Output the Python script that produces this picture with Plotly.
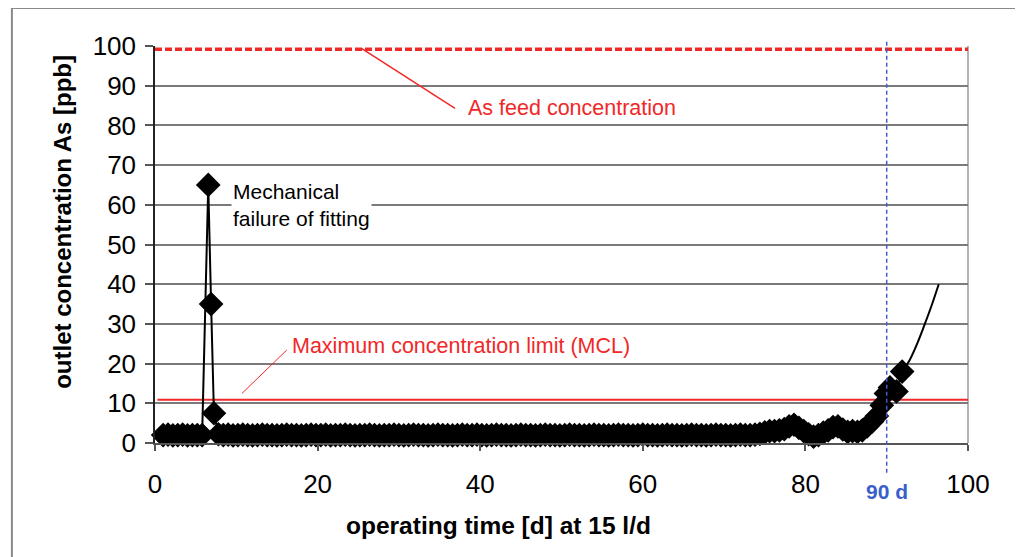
import plotly.graph_objects as go

# ---------------- data ----------------
X_MIN, X_MAX = 0, 100
Y_MIN, Y_MAX = 0, 100
x_ticks = [0, 20, 40, 60, 80, 100]
y_ticks = [0, 10, 20, 30, 40, 50, 60, 70, 80, 90, 100]

# early baseline before failure
early_days = [1.0, 1.6, 2.2, 2.8, 3.4, 4.0, 4.6, 5.2, 5.8]
early_conc = [2.0, 2.1, 1.9, 2.0, 2.1, 1.9, 2.0, 2.0, 2.0]

# mechanical failure of fitting
fail_days = [6.55, 6.9, 7.25]
fail_conc = [65.0, 35.0, 7.5]

# long baseline
base_days = [7.8, 8.4, 9.0, 9.6, 10.2, 10.8, 11.4, 12.0, 12.6, 13.2, 13.8, 14.4, 15.0,
             15.6, 16.2, 16.8, 17.4, 18.0, 18.6, 19.2, 19.8, 20.4, 21.0, 21.6, 22.2,
             22.8, 23.4, 24.0, 24.6, 25.2, 25.8, 26.4, 27.0, 27.6, 28.2, 28.8, 29.4,
             30.0, 30.6, 31.2, 31.8, 32.4, 33.0, 33.6, 34.2, 34.8, 35.4, 36.0, 36.6,
             37.2, 37.8, 38.4, 39.0, 39.6, 40.2, 40.8, 41.4, 42.0, 42.6, 43.2, 43.8,
             44.4, 45.0, 45.6, 46.2, 46.8, 47.4, 48.0, 48.6, 49.2, 49.8, 50.4, 51.0,
             51.6, 52.2, 52.8, 53.4, 54.0, 54.6, 55.2, 55.8, 56.4, 57.0, 57.6, 58.2,
             58.8, 59.4, 60.0, 60.6, 61.2, 61.8, 62.4, 63.0, 63.6, 64.2, 64.8, 65.4,
             66.0, 66.6, 67.2, 67.8, 68.4, 69.0, 69.6, 70.2, 70.8, 71.4, 72.0, 72.6,
             73.2, 73.8]
base_conc = [2.2, 2.0, 2.1, 1.9, 2.0, 2.1, 2.0, 1.9, 2.0, 2.1, 2.0, 2.0, 1.9,
             2.0, 2.1, 2.0, 2.0, 1.9, 2.0, 2.1, 2.0, 2.0, 2.1, 1.9, 2.0,
             2.0, 2.1, 2.0, 1.9, 2.0, 2.0, 2.1, 2.0, 1.9, 2.0, 2.0, 2.1,
             2.0, 1.9, 2.0, 2.1, 2.0, 2.0, 1.9, 2.0, 2.1, 2.0, 2.0, 1.9,
             2.0, 2.1, 2.0, 2.0, 2.1, 2.0, 1.9, 2.0, 2.1, 2.0, 2.0, 1.9,
             2.0, 2.1, 2.0, 2.0, 1.9, 2.0, 2.1, 2.0, 2.0, 1.9, 2.0, 2.1,
             2.0, 2.0, 1.9, 2.0, 2.1, 2.0, 2.0, 1.9, 2.0, 2.1, 2.0, 2.0,
             1.9, 2.0, 2.1, 2.0, 2.0, 1.9, 2.0, 2.1, 2.0, 2.0, 1.9, 2.0,
             2.1, 2.0, 2.0, 1.9, 2.0, 2.1, 2.0, 2.0, 1.9, 2.0, 2.1, 2.0,
             2.0, 2.1]

# breakthrough phase
late_days = [74.4, 75.0, 75.6, 76.2, 76.8, 77.4, 78.0, 78.6, 79.2, 79.8, 80.4, 81.0,
             81.6, 82.2, 82.8, 83.4, 84.0, 84.6, 85.2, 85.8, 86.4, 87.0, 87.6, 88.2,
             88.8, 89.4, 89.9, 90.4, 91.2, 91.9]
late_conc = [2.3, 2.7, 3.0, 3.0, 3.2, 3.5, 4.2, 4.6, 3.8, 3.0, 2.2, 1.6,
             2.0, 2.6, 3.2, 4.0, 4.2, 3.4, 2.8, 3.0, 2.8, 3.2, 4.2, 5.4,
             6.8, 9.5, 12.5, 14.0, 13.0, 18.0]

# extrapolated trend
trend_days = [91.9, 92.8, 93.7, 94.6, 95.5, 96.4]
trend_conc = [18.0, 20.8, 24.8, 29.5, 34.5, 40.0]

feed_conc = 99.2
mcl_conc = 10.9
breakthrough_day = 90

days = early_days + fail_days + base_days + late_days
conc = early_conc + fail_conc + base_conc + late_conc

# --------------- figure ----------------
FONT = "Liberation Sans, Arial, Helvetica, sans-serif"
RED = "#f02828"
BLUE = "#3a5fcd"


def px(v):
    return (v - X_MIN) / (X_MAX - X_MIN)


def py(v):
    return (v - Y_MIN) / (Y_MAX - Y_MIN)


fig = go.Figure()

fig.add_trace(go.Scatter(
    x=days, y=conc, mode="lines+markers",
    line=dict(color="black", width=2),
    marker=dict(symbol="diamond", size=19, color="black"),
    cliponaxis=False, showlegend=False, hoverinfo="x+y"))

fig.add_trace(go.Scatter(
    x=trend_days, y=trend_conc, mode="lines",
    line=dict(color="black", width=2, shape="spline"),
    showlegend=False, hoverinfo="skip"))

shapes = [
    # feed concentration (dashed red)
    dict(type="line", xref="x", yref="y", x0=X_MIN, x1=X_MAX, y0=feed_conc, y1=feed_conc,
         line=dict(color=RED, width=3.5, dash="7px,3px"), layer="above"),
    # MCL
    dict(type="line", xref="x", yref="y", x0=X_MIN + 0.3, x1=X_MAX, y0=mcl_conc, y1=mcl_conc,
         line=dict(color=RED, width=2), layer="below"),
    # 90 d marker line
    dict(type="line", xref="paper", yref="paper",
         x0=px(breakthrough_day), x1=px(breakthrough_day), y0=py(-7.5), y1=py(101.3),
         line=dict(color=BLUE, width=1.5, dash="4px,3px")),
    # right plot border
    dict(type="line", xref="paper", yref="paper", x0=1, x1=1, y0=0, y1=1,
         line=dict(color="#9a9a9a", width=1.5), layer="below"),
    # leader lines
    dict(type="line", xref="x", yref="y", x0=25.4, y0=99.4, x1=36.9, y1=84.3,
         line=dict(color=RED, width=1.5)),
    dict(type="line", xref="x", yref="y", x0=10.7, y0=12.5, x1=16.2, y1=23.4,
         line=dict(color=RED, width=1)),
    # outer frame
    dict(type="rect", xref="paper", yref="paper", x0=-0.176, x1=1.3, y0=-0.5, y1=1.0957,
         line=dict(color="#8a8a8a", width=2), fillcolor="rgba(0,0,0,0)"),
]

annotations = [
    dict(text="Mechanical<br>failure of fitting", xref="x", yref="y", x=9.35, y=60,
         xanchor="left", yanchor="middle", align="left", showarrow=False,
         bgcolor="white", font=dict(family=FONT, size=21, color="black")),
    dict(text="As feed concentration", xref="x", yref="y", x=38.2, y=84.4,
         xanchor="left", yanchor="middle", showarrow=False,
         font=dict(family=FONT, size=21.5, color=RED)),
    dict(text="Maximum concentration limit (MCL)", xref="x", yref="y", x=16.6, y=24.4,
         xanchor="left", yanchor="middle", showarrow=False,
         font=dict(family=FONT, size=21.5, color=RED)),
    dict(text="<b>90 d</b>", xref="paper", yref="paper", x=px(breakthrough_day), y=-0.123,
         xanchor="center", yanchor="middle", showarrow=False,
         font=dict(family=FONT, size=21, color=BLUE)),
    dict(text="<b>operating time [d] at 15 l/d</b>", xref="paper", yref="paper",
         x=0.423, y=-0.207, xanchor="center", yanchor="middle", showarrow=False,
         font=dict(family=FONT, size=24.5, color="black")),
    dict(text="<b>outlet concentration As [ppb]</b>", xref="paper", yref="paper",
         x=-0.114, y=0.558, xanchor="center", yanchor="middle", showarrow=False,
         textangle=-90, font=dict(family=FONT, size=24, color="black")),
]

fig.update_layout(
    width=1015, height=549,
    margin=dict(l=147, r=55, t=38, b=114),
    paper_bgcolor="white", plot_bgcolor="white",
    font=dict(family=FONT, color="black"),
    shapes=shapes, annotations=annotations,
    xaxis=dict(range=[X_MIN, X_MAX], tickvals=x_ticks, ticktext=[str(t) for t in x_ticks],
               showgrid=False, zeroline=False, showline=True, linecolor="#555555", linewidth=1.5,
               ticks="outside", ticklen=6, tickcolor="#555555", tickwidth=1.5,
               ticklabelstandoff=11, tickfont=dict(family=FONT, size=26, color="black")),
    yaxis=dict(range=[Y_MIN, Y_MAX], tickvals=y_ticks, ticktext=[str(t) for t in y_ticks],
               showgrid=True, gridcolor="#7a7a7a", gridwidth=1.5, zeroline=False,
               showline=True, linecolor="#222222", linewidth=1.5,
               ticks="outside", ticklen=8, tickcolor="#555555", tickwidth=1.5,
               ticklabelstandoff=4, tickfont=dict(family=FONT, size=26, color="black")),
)

fig.write_html("out.html")
